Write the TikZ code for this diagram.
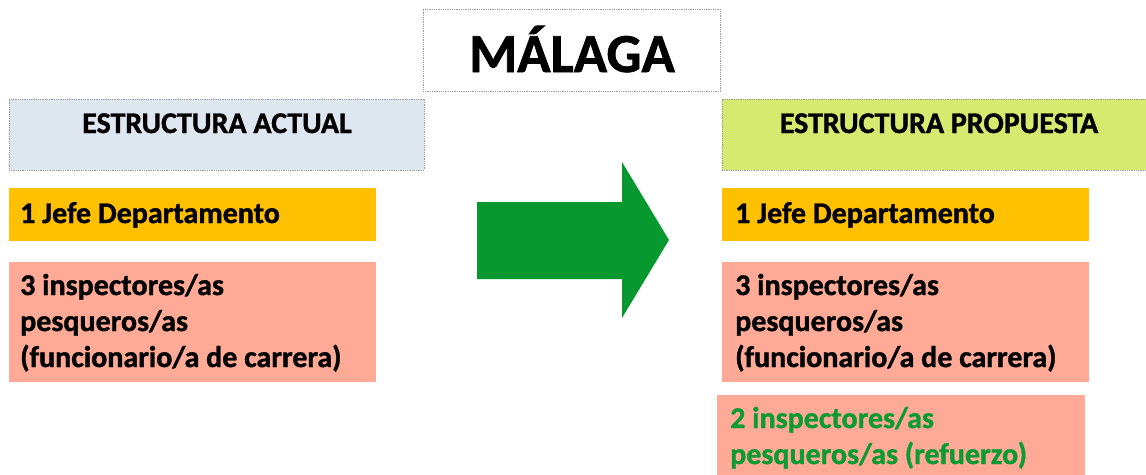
\documentclass[tikz,border=0pt]{standalone}
\usepackage{fontspec}
\setmainfont{Carlito}[BoldFeatures={FakeBold=1.2}]
\definecolor{hdrA}{HTML}{DEE6EF}
\definecolor{hdrB}{HTML}{D6EA70}
\definecolor{jefe}{HTML}{FFC000}
\definecolor{salmon}{HTML}{FFAA96}
\definecolor{arrowgreen}{HTML}{07992F}
\definecolor{txtgreen}{HTML}{0C9B32}
\begin{document}
\begin{tikzpicture}[x=1pt,y=-1pt,
  box/.style={anchor=north west, inner sep=0pt, outer sep=0pt},
  dotbox/.style={box, draw=gray!80, densely dotted, line width=0.8pt},
  lbl/.style={anchor=base west, inner sep=0pt, font=\bfseries\fontsize{30}{36}\selectfont, align=left},
  hdr/.style={anchor=base, inner sep=0pt, font=\bfseries\fontsize{30}{36}\selectfont}
]
\useasboundingbox (0,0) rectangle (1146,474);
% title
\node[dotbox, fill=white, minimum width=297pt, minimum height=82pt] (title) at (423,9) {};
\node[anchor=base, inner sep=0pt, font=\bfseries\fontsize{55}{60}\selectfont] (titletext) at (572,72) {MÁLAGA};
% headers
\node[dotbox, fill=hdrA, minimum width=415pt, minimum height=71pt] (hA) at (9,99) {};
\node[hdr] (hAt) at (217,133) {ESTRUCTURA ACTUAL};
\node[dotbox, fill=hdrB, minimum width=430pt, minimum height=71pt] (hB) at (722,99) {};
\node[hdr] (hBt) at (939,133) {ESTRUCTURA PROPUESTA};
% left column (base anchor = last line's baseline)
\node[box, fill=jefe, minimum width=367pt, minimum height=53pt] (jA) at (9,188) {};
\node[lbl] (jAt) at (20,223) {1 Jefe Departamento};
\node[box, fill=salmon, minimum width=367pt, minimum height=120pt] (iA) at (9,262) {};
\node[lbl] (iAt) at (20,367) {3 inspectores/as\\pesqueros/as\\(funcionario/a de carrera)};
% right column
\node[box, fill=jefe, minimum width=367pt, minimum height=53pt] (jB) at (722,188) {};
\node[lbl] (jBt) at (735,223) {1 Jefe Departamento};
\node[box, fill=salmon, minimum width=367pt, minimum height=120pt] (iB) at (722,262) {};
\node[lbl] (iBt) at (735,367) {3 inspectores/as\\pesqueros/as\\(funcionario/a de carrera)};
\node[box, fill=salmon, minimum width=368pt, minimum height=90pt] (rB) at (717,395) {};
\node[lbl, text=txtgreen] (rBt) at (730,464) {2 inspectores/as\\pesqueros/as (refuerzo)};
% arrow
\fill[arrowgreen] (477,202) -- (622,202) -- (622,162) -- (669,240) -- (622,318) -- (622,279) -- (477,279) -- cycle;
\end{tikzpicture}
\end{document}
